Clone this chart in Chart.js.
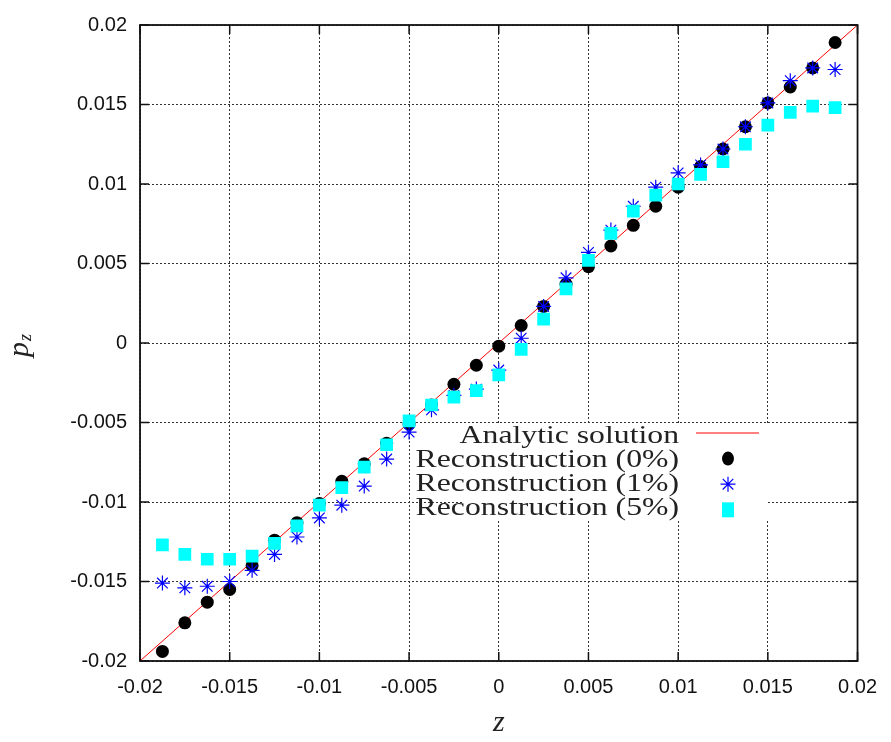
<!DOCTYPE html>
<html lang="en">
<head>
    <meta charset="utf-8">
    <title>p_z reconstruction</title>
    <script src="https://cdn.jsdelivr.net/npm/chart.js"></script>
    <style>
        html, body { margin: 0; padding: 0; background: #fff; }
        #wrap { width: 891px; height: 742px; }
    </style>
</head>
<body>
    <div id="wrap"><canvas id="pzChart" width="891" height="742"></canvas></div>

    <script>
        // sample positions along z
        const zValues = [-0.01875, -0.0175, -0.01625, -0.015, -0.01375, -0.0125, -0.01125, -0.01,
            -0.00875, -0.0075, -0.00625, -0.005, -0.00375, -0.0025, -0.00125, 0,
            0.00125, 0.0025, 0.00375, 0.005, 0.00625, 0.0075, 0.00875, 0.01,
            0.01125, 0.0125, 0.01375, 0.015, 0.01625, 0.0175, 0.01875];

        // reconstructed p_z, 0% noise
        const recon0 = [-0.0194, -0.0176, -0.0163, -0.0155, -0.0140, -0.0124, -0.0113, -0.0101,
            -0.0087, -0.0076, -0.0063, -0.0051, -0.0039, -0.0026, -0.0014, -0.0002,
            0.0011, 0.0023, 0.0037, 0.0048, 0.0061, 0.0074, 0.0086, 0.0098,
            0.0111, 0.0122, 0.0136, 0.0151, 0.0161, 0.0173, 0.0189];

        // 1% noise
        const recon1 = [-0.0151, -0.0154, -0.0153, -0.0150, -0.0143, -0.0133, -0.0122, -0.0110,
            -0.0102, -0.0090, -0.0073, -0.0056, -0.0042, -0.0033, -0.0029, -0.0017,
            0.0003, 0.0023, 0.0041, 0.0057, 0.0071, 0.0086, 0.0098, 0.0107,
            0.0112, 0.0122, 0.0136, 0.0151, 0.0165, 0.0173, 0.0172];

        // 5% noise
        const recon5 = [-0.0127, -0.0133, -0.0136, -0.0136, -0.0134, -0.0126, -0.0115, -0.0102,
            -0.0091, -0.0078, -0.0064, -0.0049, -0.0039, -0.0034, -0.0030, -0.0020,
            -0.0004, 0.0015, 0.0034, 0.0052, 0.0069, 0.0083, 0.0093, 0.0100,
            0.0106, 0.0114, 0.0125, 0.0137, 0.0145, 0.0149, 0.0148];

        const analyticZ = [-0.02, 0.02];
        const analyticP = [-0.02, 0.02];

        const xTicks = [-0.02, -0.015, -0.01, -0.005, 0, 0.005, 0.01, 0.015, 0.02];
        const yTicks = [-0.02, -0.015, -0.01, -0.005, 0, 0.005, 0.01, 0.015, 0.02];

        const legendLabels = ['Analytic solution', 'Reconstruction (0%)', 'Reconstruction (1%)', 'Reconstruction (5%)'];

        function toPoints(xs, ys) {
            return xs.map((x, i) => ({ x: x, y: ys[i] }));
        }

        // frame, inward tick marks, axis titles and the gnuplot-style key
        const decorPlugin = {
            id: 'decor',
            afterDraw(chart) {
                const ctx = chart.ctx;
                const area = chart.chartArea;
                const xs = chart.scales.x;
                const ys = chart.scales.y;
                const tick = 9;

                ctx.save();
                ctx.strokeStyle = '#111';
                ctx.lineWidth = 1.5;
                ctx.beginPath();
                xTicks.forEach(v => {
                    const px = xs.getPixelForValue(v);
                    ctx.moveTo(px, area.bottom); ctx.lineTo(px, area.bottom - tick);
                    ctx.moveTo(px, area.top); ctx.lineTo(px, area.top + tick);
                });
                yTicks.forEach(v => {
                    const py = ys.getPixelForValue(v);
                    ctx.moveTo(area.left, py); ctx.lineTo(area.left + tick, py);
                    ctx.moveTo(area.right, py); ctx.lineTo(area.right - tick, py);
                });
                ctx.stroke();
                ctx.lineWidth = 1.8;
                ctx.strokeRect(area.left, area.top, area.right - area.left, area.bottom - area.top);

                // axis titles
                ctx.fillStyle = '#222';
                ctx.font = 'italic 30px "Liberation Serif"';
                ctx.textAlign = 'center';
                ctx.textBaseline = 'alphabetic';
                ctx.fillText('z', (area.left + area.right) / 2, 731);

                ctx.save();
                ctx.translate(28, 357);
                ctx.rotate(-Math.PI / 2);
                ctx.textAlign = 'left';
                ctx.font = 'italic 30px "Liberation Serif"';
                ctx.fillText('p', 0, 0);
                const pw = ctx.measureText('p').width;
                ctx.font = 'italic 18px "Liberation Serif"';
                ctx.fillText('z', pw + 1, 3);
                ctx.restore();

                // key
                const keyRight = 679;
                const sampleX = 728;
                ctx.fillStyle = '#fff';
                ctx.fillRect(463, 424, 305, 97);
                ctx.font = '26px "Liberation Serif"';
                ctx.textAlign = 'right';
                legendLabels.forEach((label, i) => {
                    const rowY = 433 + i * 25.6;
                    ctx.save();
                    ctx.translate(keyRight, 443 + i * 24);
                    ctx.scale(1.22, 1);
                    ctx.fillStyle = '#222';
                    ctx.fillText(label, 0, 0);
                    ctx.restore();

                    const ds = chart.data.datasets[i];
                    ctx.save();
                    if (i === 0) {
                        ctx.strokeStyle = ds.borderColor;
                        ctx.lineWidth = 1;
                        ctx.beginPath();
                        ctx.moveTo(696, rowY); ctx.lineTo(759, rowY);
                        ctx.stroke();
                    } else if (ds.pointStyle === 'circle') {
                        ctx.fillStyle = ds.pointBackgroundColor;
                        ctx.beginPath();
                        ctx.ellipse(sampleX, rowY, 6, 7, 0, 0, Math.PI * 2);
                        ctx.fill();
                    } else if (ds.pointStyle === 'star') {
                        const r = ds.pointRadius;
                        ctx.strokeStyle = ds.pointBorderColor;
                        ctx.lineWidth = ds.pointBorderWidth;
                        ctx.beginPath();
                        for (let k = 0; k < 4; k++) {
                            const a = k * Math.PI / 4;
                            ctx.moveTo(sampleX - Math.cos(a) * r, rowY - Math.sin(a) * r);
                            ctx.lineTo(sampleX + Math.cos(a) * r, rowY + Math.sin(a) * r);
                        }
                        ctx.stroke();
                    } else {
                        ctx.fillStyle = ds.pointBackgroundColor;
                        ctx.fillRect(sampleX - 6, rowY - 7.5, 12, 15);
                    }
                    ctx.restore();
                });
                ctx.restore();
            }
        };

        const ctx = document.getElementById('pzChart').getContext('2d');
        new Chart(ctx, {
            type: 'scatter',
            data: {
                datasets: [
                    {
                        label: legendLabels[0],
                        data: toPoints(analyticZ, analyticP),
                        showLine: true,
                        borderColor: '#ff0000',
                        borderWidth: 1,
                        pointRadius: 0,
                        order: 4
                    },
                    {
                        label: legendLabels[1],
                        data: toPoints(zValues, recon0),
                        pointStyle: 'circle',
                        pointRadius: 6.5,
                        pointBackgroundColor: '#000000',
                        pointBorderColor: '#000000',
                        pointBorderWidth: 0,
                        order: 3
                    },
                    {
                        label: legendLabels[2],
                        data: toPoints(zValues, recon1),
                        pointStyle: 'star',
                        pointRadius: 7.5,
                        pointBackgroundColor: '#0000ff',
                        pointBorderColor: '#0000ff',
                        pointBorderWidth: 1.2,
                        order: 2
                    },
                    {
                        label: legendLabels[3],
                        data: toPoints(zValues, recon5),
                        pointStyle: 'rect',
                        pointRadius: 9,
                        pointBackgroundColor: '#00ffff',
                        pointBorderColor: '#00ffff',
                        pointBorderWidth: 0,
                        order: 1
                    }
                ]
            },
            options: {
                responsive: false,
                animation: false,
                layout: { padding: { top: 18, right: 29, left: 0, bottom: 0 } },
                plugins: {
                    legend: { display: false },
                    tooltip: { enabled: false }
                },
                scales: {
                    x: {
                        type: 'linear',
                        min: -0.02,
                        max: 0.02,
                        afterBuildTicks: axis => { axis.ticks = xTicks.map(v => ({ value: v })); },
                        afterFit: scale => { scale.height = 81; },
                        grid: { color: '#333', lineWidth: 1, drawTicks: false },
                        border: { display: false, dash: [2, 2] },
                        ticks: {
                            color: '#111',
                            padding: 14,
                            maxRotation: 0,
                            font: { family: '"Liberation Sans"', size: 20 },
                            callback: v => String(v)
                        }
                    },
                    y: {
                        type: 'linear',
                        min: -0.02,
                        max: 0.02,
                        afterBuildTicks: axis => { axis.ticks = yTicks.map(v => ({ value: v })); },
                        afterFit: scale => { scale.width = 140; },
                        grid: { color: '#333', lineWidth: 1, drawTicks: false },
                        border: { display: false, dash: [2, 2] },
                        ticks: {
                            color: '#111',
                            padding: 13,
                            font: { family: '"Liberation Sans"', size: 20 },
                            callback: v => String(v)
                        }
                    }
                }
            },
            plugins: [decorPlugin]
        });
    </script>
</body>
</html>
